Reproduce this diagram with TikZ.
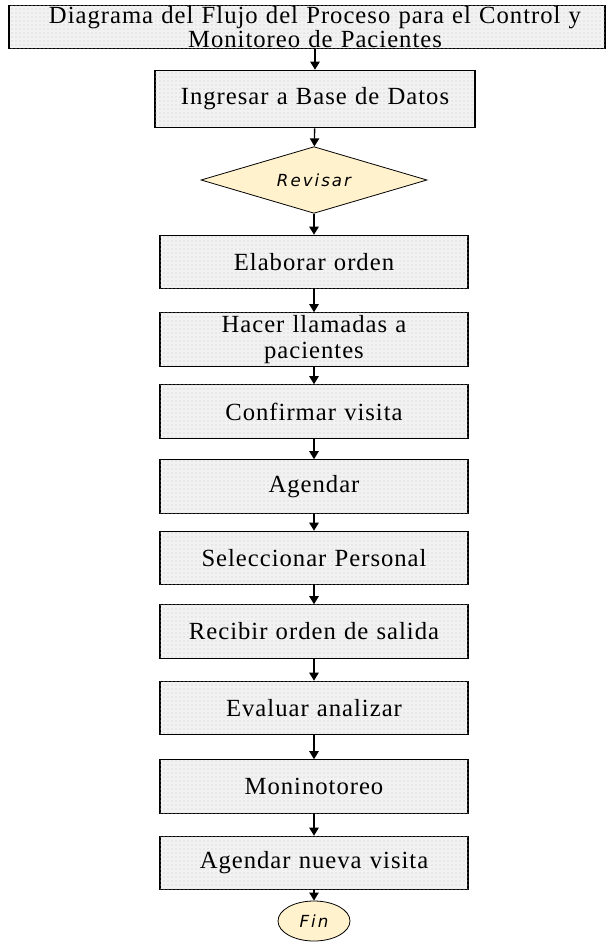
\documentclass[tikz,border=0pt]{standalone}
\usepackage{fontspec}
\setmainfont[LetterSpace=4]{Liberation Serif}
\newfontfamily\revfont[LetterSpace=12]{DejaVu Sans}
\usetikzlibrary{shapes.geometric,arrows.meta,patterns}
\definecolor{cream}{RGB}{255,242,204}
\tikzset{
  x=0.75pt,y=-0.75pt,
  procbox/.style={draw=black,line width=0.9pt,fill=gray!10,
    postaction={pattern=dots,pattern color=gray!45},
    rectangle,minimum width=231pt,minimum height=40pt,inner sep=0pt,
    align=center,text width=228pt,font=\fontsize{18.5}{19.5}\selectfont},
  decision/.style={draw=black,line width=0.6pt,fill=cream,diamond,aspect=3.35,
    minimum width=169.5pt,minimum height=50pt,inner sep=0pt,
    font=\revfont\itshape\fontsize{12.5}{14}\selectfont},
  terminal/.style={draw=black,line width=0.6pt,fill=cream,ellipse,
    minimum width=54pt,minimum height=30pt,inner sep=0pt,
    font=\revfont\itshape\fontsize{12.5}{14}\selectfont},
  flow/.style={draw=black,line width=1pt,-{Triangle[width=7pt,length=6pt]}}
}
\begin{document}
\begin{tikzpicture}
\useasboundingbox (0,0) rectangle (608,945);
\node[procbox,minimum width=447pt,minimum height=32pt,text width=445pt,
  font=\fontsize{18.5}{14}\selectfont] (title) at (307,27)
  {\hspace*{12pt}Diagrama del Flujo del Proceso para el Control y\\\hspace*{12pt}Monitoreo de Pacientes};
\node[procbox,minimum width=240pt,minimum height=43pt] (ingresar) at (315,99) {Ingresar a Base de Datos};
\node[decision] (revisar) at (314,180) {Revisar};
\node[procbox] (elaborar) at (314,262) {Elaborar orden};
\node[procbox] (hacer) at (314,339.5) {Hacer llamadas a\\pacientes};
\node[procbox] (confirmar) at (314,411.5) {Confirmar visita};
\node[procbox] (agendar) at (314,486.5) {Agendar};
\node[procbox] (seleccionar) at (314,558) {Seleccionar Personal};
\node[procbox] (recibir) at (314,631.5) {Recibir orden de salida};
\node[procbox] (evaluar) at (314,708) {Evaluar analizar};
\node[procbox] (monitoreo) at (314,786.5) {Moninotoreo};
\node[procbox] (nueva) at (314,863) {Agendar nueva visita};
\node[terminal] (fin) at (314,921) {Fin};
\draw[flow] (title.south -| ingresar.north) -- (ingresar.north);
\draw[flow] (ingresar) -- (revisar);
\draw[flow] (revisar) -- (elaborar);
\draw[flow] (elaborar) -- (hacer);
\draw[flow] (hacer) -- (confirmar);
\draw[flow] (confirmar) -- (agendar);
\draw[flow] (agendar) -- (seleccionar);
\draw[flow] (seleccionar) -- (recibir);
\draw[flow] (recibir) -- (evaluar);
\draw[flow] (evaluar) -- (monitoreo);
\draw[flow] (monitoreo) -- (nueva);
\draw[flow] (nueva) -- (fin);
\end{tikzpicture}
\end{document}
